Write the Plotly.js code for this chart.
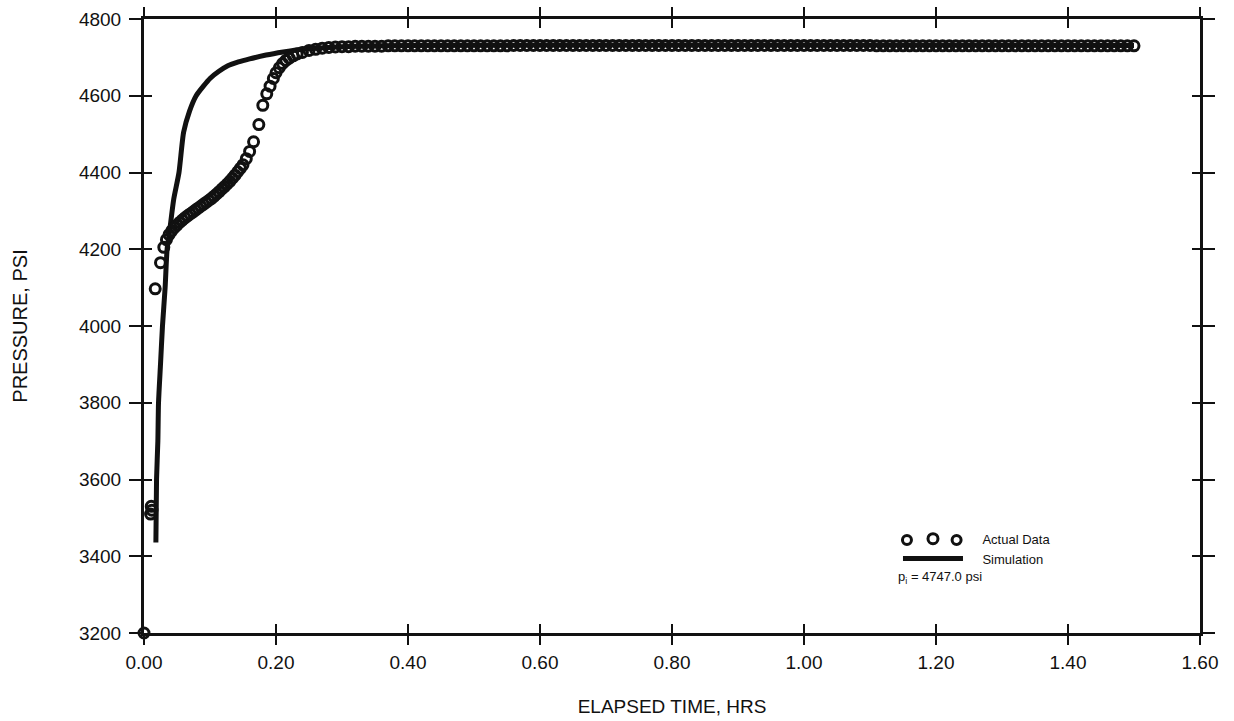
<!DOCTYPE html>
<html>
<head>
<meta charset="utf-8">
<script src="https://cdn.plot.ly/plotly-3.0.1.min.js"></script>
<style>html,body{margin:0;padding:0;background:#fff;}#chart{width:1234px;height:721px;}</style>
</head>
<body>
<div id="chart"></div>
<script>
// Simulation curve (hours, psi)
const simTime = [0.018, 0.019, 0.021, 0.022, 0.025, 0.028, 0.032, 0.035, 0.039, 0.045, 0.053, 0.060, 0.069, 0.079, 0.090, 0.100, 0.113, 0.127, 0.143, 0.160, 0.185, 0.211, 0.243, 0.280, 0.320, 0.400, 0.600, 1.000, 1.500];
const simPressure = [3436, 3600, 3700, 3800, 3900, 4000, 4100, 4200, 4250, 4330, 4400, 4505, 4560, 4600, 4625, 4645, 4663, 4678, 4688, 4696, 4706, 4714, 4722, 4726, 4729, 4731, 4732, 4732, 4731];

// Actual data (hours, psi)
const dataTime = [
  0.000, 0.010, 0.011, 0.012, 0.017, 0.025, 0.030, 0.034, 0.038, 0.042, 0.046, 0.050, 0.054, 0.058, 0.062, 0.066,
  0.070, 0.074, 0.078, 0.082, 0.086, 0.090, 0.094, 0.098, 0.102, 0.106, 0.110, 0.114, 0.118, 0.122, 0.126, 0.130,
  0.134, 0.138, 0.142, 0.146, 0.150, 0.155, 0.160, 0.166, 0.174, 0.180, 0.186, 0.191, 0.196, 0.200, 0.205, 0.210,
  0.215, 0.220, 0.226, 0.232, 0.240, 0.250, 0.260, 0.270, 0.280, 0.290, 0.300,
  0.31, 0.32, 0.33, 0.34, 0.35, 0.36, 0.37, 0.38, 0.39, 0.40, 0.41, 0.42, 0.43, 0.44, 0.45, 0.46, 0.47, 0.48, 0.49, 0.50,
  0.51, 0.52, 0.53, 0.54, 0.55, 0.56, 0.57, 0.58, 0.59, 0.60, 0.61, 0.62, 0.63, 0.64, 0.65, 0.66, 0.67, 0.68, 0.69, 0.70,
  0.71, 0.72, 0.73, 0.74, 0.75, 0.76, 0.77, 0.78, 0.79, 0.80, 0.81, 0.82, 0.83, 0.84, 0.85, 0.86, 0.87, 0.88, 0.89, 0.90,
  0.91, 0.92, 0.93, 0.94, 0.95, 0.96, 0.97, 0.98, 0.99, 1.00, 1.01, 1.02, 1.03, 1.04, 1.05, 1.06, 1.07, 1.08, 1.09, 1.10,
  1.11, 1.12, 1.13, 1.14, 1.15, 1.16, 1.17, 1.18, 1.19, 1.20, 1.21, 1.22, 1.23, 1.24, 1.25, 1.26, 1.27, 1.28, 1.29, 1.30,
  1.31, 1.32, 1.33, 1.34, 1.35, 1.36, 1.37, 1.38, 1.39, 1.40, 1.41, 1.42, 1.43, 1.44, 1.45, 1.46, 1.47, 1.48, 1.49, 1.50
];
const dataPressure = [
  3200, 3510, 3530, 3520, 4097, 4165, 4205, 4225, 4238, 4248, 4256, 4263, 4270, 4276, 4282, 4287,
  4292, 4297, 4302, 4307, 4312, 4317, 4322, 4327, 4332, 4338, 4344, 4350, 4357, 4363, 4370, 4377,
  4385, 4393, 4402, 4411, 4420, 4436, 4455, 4480, 4525, 4575, 4605, 4625, 4645, 4660, 4673, 4684,
  4692, 4698, 4704, 4709, 4713, 4718, 4721, 4724, 4726, 4727, 4728,
  4728, 4729, 4729, 4729, 4729, 4729, 4730, 4730, 4730, 4730, 4730, 4730, 4730, 4730, 4730, 4730, 4730, 4730, 4730, 4730,
  4730, 4730, 4730, 4730, 4730, 4731, 4731, 4731, 4731, 4731, 4731, 4731, 4731, 4731, 4731, 4731, 4731, 4731, 4731, 4731,
  4731, 4731, 4731, 4731, 4731, 4731, 4731, 4731, 4731, 4731, 4731, 4731, 4731, 4731, 4731, 4731, 4731, 4731, 4731, 4731,
  4731, 4731, 4731, 4731, 4731, 4731, 4731, 4731, 4731, 4731, 4731, 4731, 4731, 4731, 4731, 4731, 4731, 4731, 4731, 4731,
  4730, 4730, 4730, 4730, 4730, 4730, 4730, 4730, 4730, 4730, 4730, 4730, 4730, 4730, 4730, 4730, 4730, 4730, 4730, 4730,
  4730, 4730, 4730, 4730, 4730, 4730, 4730, 4730, 4730, 4730, 4730, 4730, 4730, 4730, 4730, 4730, 4730, 4730, 4730, 4730
];

const xTickVals = [0, 0.2, 0.4, 0.6, 0.8, 1.0, 1.2, 1.4, 1.6];
const xTickText = ['0.00', '0.20', '0.40', '0.60', '0.80', '1.00', '1.20', '1.40', '1.60'];
const yTickVals = [3200, 3400, 3600, 3800, 4000, 4200, 4400, 4600, 4800];
const yTickText = ['3200', '3400', '3600', '3800', '4000', '4200', '4400', '4600', '4800'];

const FONT = 'Liberation Sans, Arial, Helvetica, sans-serif';
const INK = '#111111';
const NB = '\u00a0\u00a0\u00a0\u00a0';

const traces = [
  {
    name: NB + 'Actual Data',
    x: dataTime, y: dataPressure,
    xaxis: 'x2', yaxis: 'y2',
    type: 'scatter', mode: 'markers',
    cliponaxis: false,
    marker: {symbol: 'circle-open', size: 10, color: INK, line: {width: 3, color: INK}},
    hoverinfo: 'x+y'
  },
  {
    name: NB + 'Simulation',
    x: simTime, y: simPressure,
    type: 'scatter', mode: 'lines',
    line: {color: INK, width: 5, shape: 'spline', smoothing: 0.6},
    hoverinfo: 'x+y'
  }
];

const baseX = {
  range: [0, 1.6], tickvals: xTickVals, ticktext: xTickText,
  showgrid: false, zeroline: false, fixedrange: true
};
const baseY = {
  range: [3200, 4800], tickvals: yTickVals, ticktext: yTickText,
  showgrid: false, zeroline: false, fixedrange: true
};

// extra legend rings for the "o o o" legend sample (paper-anchored, pixel sized)
function ring(px) {
  return {
    type: 'circle', xref: 'paper', yref: 'paper',
    xsizemode: 'pixel', ysizemode: 'pixel',
    xanchor: px, yanchor: 0.1515,
    x0: -4.5, x1: 4.5, y0: -4.5, y1: 4.5,
    line: {color: INK, width: 3}, fillcolor: 'rgba(0,0,0,0)'
  };
}

const layout = {
  width: 1234, height: 721,
  margin: {l: 144, r: 34, t: 19, b: 88},
  paper_bgcolor: '#ffffff', plot_bgcolor: '#ffffff',
  font: {family: FONT, color: INK},
  showlegend: true,
  legend: {
    x: 0.714, y: 0.178, xanchor: 'left', yanchor: 'top',
    bgcolor: 'rgba(0,0,0,0)', borderwidth: 0,
    font: {family: FONT, size: 13, color: INK},
    itemwidth: 60, traceorder: 'normal'
  },
  xaxis: Object.assign({}, baseX, {
    ticks: 'outside', ticklen: 9, tickwidth: 2, tickcolor: INK,
    showline: true, linewidth: 3, linecolor: INK, mirror: 'ticks',
    tickfont: {family: FONT, size: 19, color: INK},
    ticklabelstandoff: 1,
    automargin: false,
    title: {text: 'ELAPSED TIME, HRS', font: {family: FONT, size: 19, color: INK}, standoff: 28}
  }),
  yaxis: Object.assign({}, baseY, {
    ticks: 'outside', ticklen: 12, tickwidth: 2, tickcolor: INK,
    showline: true, linewidth: 3, linecolor: INK, mirror: 'ticks',
    tickfont: {family: FONT, size: 19, color: INK},
    ticklabelstandoff: 4,
    automargin: false,
    title: {text: 'PRESSURE, PSI', font: {family: FONT, size: 20, color: INK}, standoff: 46}
  }),
  xaxis2: Object.assign({}, baseX, {
    overlaying: 'x', anchor: 'y2', side: 'bottom',
    ticks: 'inside', ticklen: 9, tickwidth: 2, tickcolor: INK,
    showline: false, mirror: 'ticks', showticklabels: false
  }),
  yaxis2: Object.assign({}, baseY, {
    overlaying: 'y', anchor: 'x2', side: 'left',
    ticks: 'inside', ticklen: 8, tickwidth: 2, tickcolor: INK,
    showline: false, mirror: 'ticks', showticklabels: false
  }),
  shapes: [ring(0.7225), ring(0.7695)],
  annotations: [
    {
      xref: 'paper', yref: 'paper', x: 0.712, y: 0.090,
      xanchor: 'left', yanchor: 'middle', showarrow: false,
      text: 'p<sub>i</sub> = 4747.0 psi',
      font: {family: FONT, size: 13, color: INK}
    }
  ]
};

Plotly.newPlot('chart', traces, layout, {displayModeBar: false, staticPlot: true});
</script>
</body>
</html>
